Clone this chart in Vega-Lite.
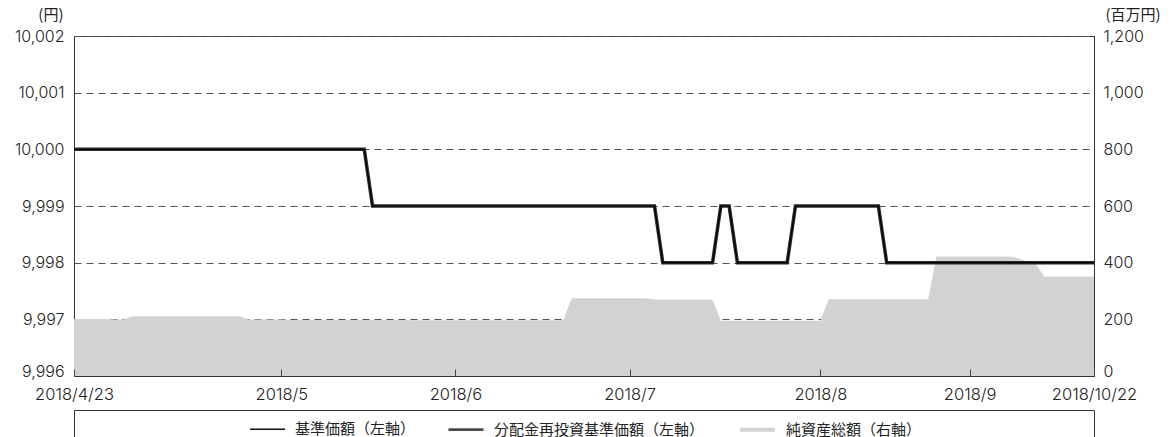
{
  "$schema": "https://vega.github.io/schema/vega-lite/v6.json",
  "padding": {"left": 13, "top": 6, "right": 0, "bottom": 0},
  "background": "white",
  "config": {
    "font": "Noto Sans CJK JP",
    "view": {"stroke": "#444", "strokeWidth": 1},
    "axis": {
      "labelFont": "Inter",
      "labelFontSize": 16,
      "labelFontWeight": 300,
      "labelColor": "#222",
      "domainColor": "#333",
      "tickColor": "#444",
      "titleFont": "Noto Sans CJK JP",
      "titleFontWeight": "normal",
      "titleFontSize": 15,
      "titleColor": "#222"
    },
    "legend": {"labelFont": "Noto Sans CJK JP", "labelColor": "#222"}
  },
  "spacing": 6,
  "vconcat": [
    {
      "width": 1020,
      "height": 340,
      "data": {
        "values": [
          {"date": "2018-04-23", "nav": 10000, "nav_reinv": 10000, "assets": 201},
          {"date": "2018-04-24", "nav": 10000, "nav_reinv": 10000, "assets": 201},
          {"date": "2018-04-25", "nav": 10000, "nav_reinv": 10000, "assets": 201},
          {"date": "2018-04-26", "nav": 10000, "nav_reinv": 10000, "assets": 201},
          {"date": "2018-04-27", "nav": 10000, "nav_reinv": 10000, "assets": 201},
          {"date": "2018-05-01", "nav": 10000, "nav_reinv": 10000, "assets": 199},
          {"date": "2018-05-02", "nav": 10000, "nav_reinv": 10000, "assets": 199},
          {"date": "2018-05-07", "nav": 10000, "nav_reinv": 10000, "assets": 211},
          {"date": "2018-05-08", "nav": 10000, "nav_reinv": 10000, "assets": 211},
          {"date": "2018-05-09", "nav": 10000, "nav_reinv": 10000, "assets": 211},
          {"date": "2018-05-10", "nav": 10000, "nav_reinv": 10000, "assets": 211},
          {"date": "2018-05-11", "nav": 10000, "nav_reinv": 10000, "assets": 211},
          {"date": "2018-05-14", "nav": 10000, "nav_reinv": 10000, "assets": 211},
          {"date": "2018-05-15", "nav": 10000, "nav_reinv": 10000, "assets": 211},
          {"date": "2018-05-16", "nav": 10000, "nav_reinv": 10000, "assets": 211},
          {"date": "2018-05-17", "nav": 10000, "nav_reinv": 10000, "assets": 211},
          {"date": "2018-05-18", "nav": 10000, "nav_reinv": 10000, "assets": 211},
          {"date": "2018-05-21", "nav": 10000, "nav_reinv": 10000, "assets": 211},
          {"date": "2018-05-22", "nav": 10000, "nav_reinv": 10000, "assets": 211},
          {"date": "2018-05-23", "nav": 10000, "nav_reinv": 10000, "assets": 211},
          {"date": "2018-05-24", "nav": 10000, "nav_reinv": 10000, "assets": 211},
          {"date": "2018-05-25", "nav": 10000, "nav_reinv": 10000, "assets": 199},
          {"date": "2018-05-28", "nav": 10000, "nav_reinv": 10000, "assets": 199},
          {"date": "2018-05-29", "nav": 10000, "nav_reinv": 10000, "assets": 199},
          {"date": "2018-05-30", "nav": 10000, "nav_reinv": 10000, "assets": 199},
          {"date": "2018-05-31", "nav": 10000, "nav_reinv": 10000, "assets": 199},
          {"date": "2018-06-01", "nav": 10000, "nav_reinv": 10000, "assets": 198},
          {"date": "2018-06-04", "nav": 10000, "nav_reinv": 10000, "assets": 198},
          {"date": "2018-06-05", "nav": 10000, "nav_reinv": 10000, "assets": 198},
          {"date": "2018-06-06", "nav": 10000, "nav_reinv": 10000, "assets": 198},
          {"date": "2018-06-07", "nav": 10000, "nav_reinv": 10000, "assets": 198},
          {"date": "2018-06-08", "nav": 10000, "nav_reinv": 10000, "assets": 198},
          {"date": "2018-06-11", "nav": 10000, "nav_reinv": 10000, "assets": 198},
          {"date": "2018-06-12", "nav": 10000, "nav_reinv": 10000, "assets": 198},
          {"date": "2018-06-13", "nav": 10000, "nav_reinv": 10000, "assets": 198},
          {"date": "2018-06-14", "nav": 10000, "nav_reinv": 10000, "assets": 198},
          {"date": "2018-06-15", "nav": 9999, "nav_reinv": 9999, "assets": 198},
          {"date": "2018-06-18", "nav": 9999, "nav_reinv": 9999, "assets": 198},
          {"date": "2018-06-19", "nav": 9999, "nav_reinv": 9999, "assets": 198},
          {"date": "2018-06-20", "nav": 9999, "nav_reinv": 9999, "assets": 198},
          {"date": "2018-06-21", "nav": 9999, "nav_reinv": 9999, "assets": 198},
          {"date": "2018-06-22", "nav": 9999, "nav_reinv": 9999, "assets": 197},
          {"date": "2018-06-25", "nav": 9999, "nav_reinv": 9999, "assets": 197},
          {"date": "2018-06-26", "nav": 9999, "nav_reinv": 9999, "assets": 197},
          {"date": "2018-06-27", "nav": 9999, "nav_reinv": 9999, "assets": 197},
          {"date": "2018-06-28", "nav": 9999, "nav_reinv": 9999, "assets": 197},
          {"date": "2018-06-29", "nav": 9999, "nav_reinv": 9999, "assets": 197},
          {"date": "2018-07-02", "nav": 9999, "nav_reinv": 9999, "assets": 197},
          {"date": "2018-07-03", "nav": 9999, "nav_reinv": 9999, "assets": 197},
          {"date": "2018-07-04", "nav": 9999, "nav_reinv": 9999, "assets": 197},
          {"date": "2018-07-05", "nav": 9999, "nav_reinv": 9999, "assets": 197},
          {"date": "2018-07-06", "nav": 9999, "nav_reinv": 9999, "assets": 197},
          {"date": "2018-07-09", "nav": 9999, "nav_reinv": 9999, "assets": 197},
          {"date": "2018-07-10", "nav": 9999, "nav_reinv": 9999, "assets": 197},
          {"date": "2018-07-11", "nav": 9999, "nav_reinv": 9999, "assets": 197},
          {"date": "2018-07-12", "nav": 9999, "nav_reinv": 9999, "assets": 197},
          {"date": "2018-07-13", "nav": 9999, "nav_reinv": 9999, "assets": 197},
          {"date": "2018-07-17", "nav": 9999, "nav_reinv": 9999, "assets": 197},
          {"date": "2018-07-18", "nav": 9999, "nav_reinv": 9999, "assets": 197},
          {"date": "2018-07-19", "nav": 9999, "nav_reinv": 9999, "assets": 197},
          {"date": "2018-07-20", "nav": 9999, "nav_reinv": 9999, "assets": 274},
          {"date": "2018-07-23", "nav": 9999, "nav_reinv": 9999, "assets": 274},
          {"date": "2018-07-24", "nav": 9999, "nav_reinv": 9999, "assets": 274},
          {"date": "2018-07-25", "nav": 9999, "nav_reinv": 9999, "assets": 274},
          {"date": "2018-07-26", "nav": 9999, "nav_reinv": 9999, "assets": 274},
          {"date": "2018-07-27", "nav": 9999, "nav_reinv": 9999, "assets": 274},
          {"date": "2018-07-30", "nav": 9999, "nav_reinv": 9999, "assets": 274},
          {"date": "2018-07-31", "nav": 9999, "nav_reinv": 9999, "assets": 274},
          {"date": "2018-08-01", "nav": 9999, "nav_reinv": 9999, "assets": 274},
          {"date": "2018-08-02", "nav": 9999, "nav_reinv": 9999, "assets": 274},
          {"date": "2018-08-03", "nav": 9999, "nav_reinv": 9999, "assets": 270},
          {"date": "2018-08-06", "nav": 9998, "nav_reinv": 9998, "assets": 269},
          {"date": "2018-08-07", "nav": 9998, "nav_reinv": 9998, "assets": 269},
          {"date": "2018-08-08", "nav": 9998, "nav_reinv": 9998, "assets": 269},
          {"date": "2018-08-09", "nav": 9998, "nav_reinv": 9998, "assets": 269},
          {"date": "2018-08-10", "nav": 9998, "nav_reinv": 9998, "assets": 269},
          {"date": "2018-08-13", "nav": 9998, "nav_reinv": 9998, "assets": 269},
          {"date": "2018-08-14", "nav": 9998, "nav_reinv": 9998, "assets": 269},
          {"date": "2018-08-15", "nav": 9999, "nav_reinv": 9999, "assets": 195},
          {"date": "2018-08-16", "nav": 9999, "nav_reinv": 9999, "assets": 195},
          {"date": "2018-08-17", "nav": 9998, "nav_reinv": 9998, "assets": 195},
          {"date": "2018-08-20", "nav": 9998, "nav_reinv": 9998, "assets": 195},
          {"date": "2018-08-21", "nav": 9998, "nav_reinv": 9998, "assets": 195},
          {"date": "2018-08-22", "nav": 9998, "nav_reinv": 9998, "assets": 195},
          {"date": "2018-08-23", "nav": 9998, "nav_reinv": 9998, "assets": 195},
          {"date": "2018-08-24", "nav": 9998, "nav_reinv": 9998, "assets": 195},
          {"date": "2018-08-27", "nav": 9998, "nav_reinv": 9998, "assets": 195},
          {"date": "2018-08-28", "nav": 9999, "nav_reinv": 9999, "assets": 195},
          {"date": "2018-08-29", "nav": 9999, "nav_reinv": 9999, "assets": 195},
          {"date": "2018-08-30", "nav": 9999, "nav_reinv": 9999, "assets": 195},
          {"date": "2018-08-31", "nav": 9999, "nav_reinv": 9999, "assets": 195},
          {"date": "2018-09-03", "nav": 9999, "nav_reinv": 9999, "assets": 271},
          {"date": "2018-09-04", "nav": 9999, "nav_reinv": 9999, "assets": 271},
          {"date": "2018-09-05", "nav": 9999, "nav_reinv": 9999, "assets": 271},
          {"date": "2018-09-06", "nav": 9999, "nav_reinv": 9999, "assets": 271},
          {"date": "2018-09-07", "nav": 9999, "nav_reinv": 9999, "assets": 271},
          {"date": "2018-09-10", "nav": 9999, "nav_reinv": 9999, "assets": 271},
          {"date": "2018-09-11", "nav": 9999, "nav_reinv": 9999, "assets": 271},
          {"date": "2018-09-12", "nav": 9998, "nav_reinv": 9998, "assets": 271},
          {"date": "2018-09-13", "nav": 9998, "nav_reinv": 9998, "assets": 271},
          {"date": "2018-09-14", "nav": 9998, "nav_reinv": 9998, "assets": 271},
          {"date": "2018-09-18", "nav": 9998, "nav_reinv": 9998, "assets": 271},
          {"date": "2018-09-19", "nav": 9998, "nav_reinv": 9998, "assets": 271},
          {"date": "2018-09-20", "nav": 9998, "nav_reinv": 9998, "assets": 271},
          {"date": "2018-09-21", "nav": 9998, "nav_reinv": 9998, "assets": 422},
          {"date": "2018-09-25", "nav": 9998, "nav_reinv": 9998, "assets": 422},
          {"date": "2018-09-26", "nav": 9998, "nav_reinv": 9998, "assets": 422},
          {"date": "2018-09-27", "nav": 9998, "nav_reinv": 9998, "assets": 422},
          {"date": "2018-09-28", "nav": 9998, "nav_reinv": 9998, "assets": 422},
          {"date": "2018-10-01", "nav": 9998, "nav_reinv": 9998, "assets": 422},
          {"date": "2018-10-02", "nav": 9998, "nav_reinv": 9998, "assets": 422},
          {"date": "2018-10-03", "nav": 9998, "nav_reinv": 9998, "assets": 422},
          {"date": "2018-10-04", "nav": 9998, "nav_reinv": 9998, "assets": 422},
          {"date": "2018-10-05", "nav": 9998, "nav_reinv": 9998, "assets": 421},
          {"date": "2018-10-09", "nav": 9998, "nav_reinv": 9998, "assets": 414},
          {"date": "2018-10-10", "nav": 9998, "nav_reinv": 9998, "assets": 404},
          {"date": "2018-10-11", "nav": 9998, "nav_reinv": 9998, "assets": 394},
          {"date": "2018-10-12", "nav": 9998, "nav_reinv": 9998, "assets": 351},
          {"date": "2018-10-15", "nav": 9998, "nav_reinv": 9998, "assets": 351},
          {"date": "2018-10-16", "nav": 9998, "nav_reinv": 9998, "assets": 351},
          {"date": "2018-10-17", "nav": 9998, "nav_reinv": 9998, "assets": 351},
          {"date": "2018-10-18", "nav": 9998, "nav_reinv": 9998, "assets": 351},
          {"date": "2018-10-19", "nav": 9998, "nav_reinv": 9998, "assets": 351},
          {"date": "2018-10-22", "nav": 9998, "nav_reinv": 9998, "assets": 351}
        ]
      },
      "encoding": {
        "x": {
          "field": "date",
          "type": "ordinal",
          "scale": {"type": "point", "padding": 0},
          "axis": {
            "title": null,
            "values": ["2018-04-23", "2018-05-31", "2018-06-29", "2018-07-31", "2018-08-31", "2018-09-28", "2018-10-22"],
            "labelExpr": "datum.value == '2018-04-23' ? '2018/4/23' : datum.value == '2018-10-22' ? '2018/10/22' : '2018/' + toNumber(slice(datum.value, 5, 7))",
            "labelAngle": 0,
            "labelAlign": "center",
            "labelBaseline": "top",
            "labelFontSize": 16.5,
            "tickSize": -7,
            "labelPadding": 17,
            "grid": false,
            "zindex": 1
          }
        }
      },
      "layer": [
        {
          "mark": {"type": "area", "color": "#d1d2d4"},
          "encoding": {
            "y": {
              "field": "assets",
              "type": "quantitative",
              "scale": {"domain": [0, 1200], "nice": false},
              "axis": {
                "orient": "right",
                "values": [0, 200, 400, 600, 800, 1000, 1200],
                "labelExpr": "format(datum.value, ',')",
                "labelBaseline": {"condition": {"test": "datum.value == 0", "value": "alphabetic"}, "value": "middle"},
                "ticks": false,
                "labelPadding": 9,
                "grid": false,
                "title": "(百万円)",
                "titleAngle": 0,
                "titleAlign": "left",
                "titleBaseline": "middle",
                "titleX": 11,
                "titleY": -22
              }
            }
          }
        },
        {
          "layer": [
            {
              "mark": {"type": "line", "color": "#2b2b2b", "strokeWidth": 3.5},
              "encoding": {
                "y": {
                  "field": "nav_reinv",
                  "type": "quantitative",
                  "scale": {"domain": [9996, 10002], "nice": false, "zero": false},
                  "axis": {
                    "orient": "left",
                    "values": [9996, 9997, 9998, 9999, 10000, 10001, 10002],
                    "labelExpr": "format(datum.value, ',')",
                    "labelBaseline": {"condition": {"test": "datum.value == 9996", "value": "alphabetic"}, "value": "middle"},
                    "ticks": false,
                    "labelPadding": 10,
                    "grid": true,
                    "gridDash": [7, 5],
                    "gridColor": "#555",
                    "gridWidth": 1,
                    "title": "(円)",
                    "titleAngle": 0,
                    "titleAlign": "right",
                    "titleBaseline": "middle",
                    "titleX": -11,
                    "titleY": -22
                  }
                }
              }
            },
            {
              "mark": {"type": "line", "color": "#000", "strokeWidth": 1.2},
              "encoding": {
                "y": {
                  "field": "nav",
                  "type": "quantitative",
                  "scale": {"domain": [9996, 10002], "nice": false, "zero": false},
                  "axis": {
                    "orient": "left",
                    "values": [9996, 9997, 9998, 9999, 10000, 10001, 10002],
                    "labelExpr": "format(datum.value, ',')",
                    "labelBaseline": {"condition": {"test": "datum.value == 9996", "value": "alphabetic"}, "value": "middle"},
                    "ticks": false,
                    "labelPadding": 10,
                    "grid": true,
                    "gridDash": [7, 5],
                    "gridColor": "#555",
                    "gridWidth": 1,
                    "title": "(円)",
                    "titleAngle": 0,
                    "titleAlign": "right",
                    "titleBaseline": "middle",
                    "titleX": -11,
                    "titleY": -22
                  }
                }
              }
            }
          ]
        }
      ],
      "resolve": {"scale": {"y": "independent"}}
    },
    {
      "width": 1020,
      "height": 45,
      "view": {"stroke": "#333", "strokeWidth": 1, "fill": "white"},
      "data": {
        "values": [
          {"series": "基準価額（左軸）"},
          {"series": "分配金再投資基準価額（左軸）"},
          {"series": "純資産総額（右軸）"}
        ]
      },
      "mark": {"type": "point", "shape": "stroke", "opacity": 0},
      "encoding": {
        "stroke": {
          "field": "series",
          "type": "nominal",
          "scale": {
            "domain": ["基準価額（左軸）", "分配金再投資基準価額（左軸）", "純資産総額（右軸）"],
            "range": ["#111111", "#484848", "#d1d2d4"]
          },
          "legend": {
            "orient": "none",
            "legendX": 175,
            "legendY": 0,
            "direction": "horizontal",
            "title": null,
            "symbolType": "stroke",
            "symbolSize": 1225,
            "symbolOpacity": 1,
            "labelFontSize": 15,
            "labelLimit": 500,
            "labelOffset": 9,
            "columnPadding": 27,
            "padding": 0
          }
        },
        "strokeWidth": {
          "field": "series",
          "type": "nominal",
          "scale": {
            "domain": ["基準価額（左軸）", "分配金再投資基準価額（左軸）", "純資産総額（右軸）"],
            "range": [1.5, 4, 6]
          },
          "legend": {
            "orient": "none",
            "legendX": 175,
            "legendY": 0,
            "direction": "horizontal",
            "title": null,
            "symbolType": "stroke",
            "symbolSize": 1225,
            "symbolOpacity": 1,
            "labelFontSize": 15,
            "labelLimit": 500,
            "labelOffset": 9,
            "columnPadding": 27,
            "padding": 0
          }
        }
      }
    }
  ],
  "resolve": {
    "scale": {"stroke": "independent", "strokeWidth": "independent"},
    "legend": {"stroke": "independent", "strokeWidth": "independent"}
  }
}
